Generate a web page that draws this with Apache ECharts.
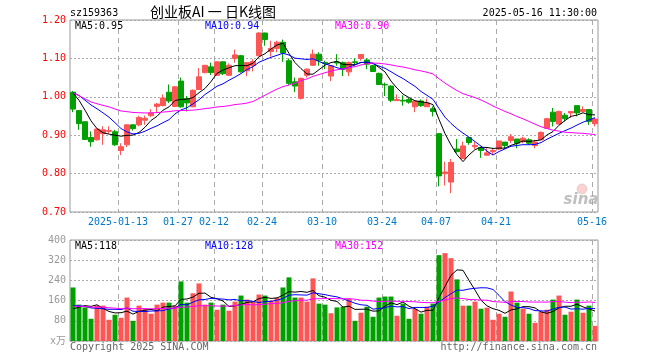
<!DOCTYPE html>
<html><head><meta charset="utf-8">
<script src="https://cdn.jsdelivr.net/npm/echarts@6/dist/echarts.min.js"></script>
<style>html,body{margin:0;padding:0;background:#fff}#c{width:660px;height:360px}</style>
</head><body><div id="c"></div>
<script>
const dates = ['2024-12-31',
'2025-01-02','2025-01-03','2025-01-06','2025-01-07','2025-01-08','2025-01-09','2025-01-10','2025-01-13','2025-01-14','2025-01-15','2025-01-16','2025-01-17','2025-01-20','2025-01-21','2025-01-22','2025-01-23','2025-01-24','2025-01-27',
'2025-02-05','2025-02-06','2025-02-07','2025-02-10','2025-02-11','2025-02-12','2025-02-13','2025-02-14','2025-02-17','2025-02-18','2025-02-19','2025-02-20','2025-02-21','2025-02-24','2025-02-25','2025-02-26','2025-02-27','2025-02-28',
'2025-03-03','2025-03-04','2025-03-05','2025-03-06','2025-03-07','2025-03-10','2025-03-11','2025-03-12','2025-03-13','2025-03-14','2025-03-17','2025-03-18','2025-03-19','2025-03-20','2025-03-21','2025-03-24','2025-03-25','2025-03-26','2025-03-27','2025-03-28','2025-03-31',
'2025-04-01','2025-04-02','2025-04-03','2025-04-07','2025-04-08','2025-04-09','2025-04-10','2025-04-11','2025-04-14','2025-04-15','2025-04-16','2025-04-17','2025-04-18','2025-04-21','2025-04-22','2025-04-23','2025-04-24','2025-04-25','2025-04-28','2025-04-29','2025-04-30',
'2025-05-06','2025-05-07','2025-05-08','2025-05-09','2025-05-12','2025-05-13','2025-05-14','2025-05-15','2025-05-16'];

// [open, close, low, high]
const candles = [
[1.012,0.968,0.960,1.015],[0.964,0.930,0.914,0.965],[0.935,0.889,0.888,0.936],[0.894,0.883,0.870,0.910],[0.888,0.916,0.886,0.918],
[0.904,0.914,0.875,0.923],[0.910,0.912,0.904,0.923],[0.909,0.875,0.872,0.914],[0.860,0.870,0.848,0.879],[0.875,0.927,0.869,0.928],
[0.927,0.917,0.912,0.928],[0.927,0.946,0.923,0.951],[0.939,0.944,0.927,0.951],[0.951,0.958,0.947,0.968],[0.975,0.981,0.958,0.984],
[0.977,0.997,0.975,1.006],[1.012,0.989,0.984,1.032],[0.975,1.026,0.974,1.028],[1.041,0.974,0.971,1.050],[0.995,0.984,0.962,1.002],
[0.974,1.017,0.973,1.019],[1.019,1.052,1.018,1.075],[1.063,1.082,1.061,1.083],[1.078,1.063,1.057,1.089],[1.056,1.091,1.054,1.092],
[1.091,1.060,1.057,1.092],[1.056,1.082,1.054,1.087],[1.100,1.109,1.089,1.123],[1.107,1.065,1.063,1.109],[1.068,1.089,1.054,1.090],
[1.081,1.092,1.066,1.098],[1.107,1.166,1.105,1.168],[1.166,1.149,1.133,1.167],[1.118,1.126,1.105,1.146],[1.126,1.142,1.116,1.146],
[1.142,1.114,1.091,1.149],[1.094,1.035,1.030,1.100],[1.039,1.028,1.012,1.050],[0.996,1.048,0.993,1.050],[1.056,1.072,1.050,1.074],
[1.082,1.111,1.081,1.123],[1.111,1.094,1.081,1.116],[1.089,1.087,1.072,1.094],[1.054,1.081,1.041,1.082],[1.091,1.088,1.081,1.111],
[1.089,1.072,1.054,1.092],[1.065,1.089,1.054,1.092],[1.091,1.089,1.081,1.100],[1.100,1.110,1.094,1.111],[1.096,1.085,1.072,1.100],
[1.081,1.066,1.066,1.083],[1.061,1.032,1.031,1.063],[1.032,1.031,1.002,1.037],[1.028,0.991,0.986,1.030],[0.990,0.993,0.989,1.006],
[0.991,0.989,0.977,1.004],[0.993,0.986,0.982,0.997],[0.974,0.989,0.960,0.989],[0.989,0.977,0.974,0.993],[0.974,0.984,0.974,0.995],
[0.969,0.962,0.949,0.975],[0.904,0.794,0.767,0.904],[0.800,0.804,0.769,0.831],[0.778,0.829,0.749,0.838],[0.864,0.857,0.855,0.890],
[0.839,0.872,0.839,0.883],[0.894,0.881,0.875,0.894],[0.870,0.873,0.864,0.882],[0.868,0.860,0.841,0.870],[0.848,0.854,0.846,0.866],
[0.857,0.860,0.848,0.866],[0.864,0.885,0.861,0.885],[0.882,0.873,0.864,0.882],[0.886,0.896,0.879,0.903],[0.890,0.879,0.866,0.890],
[0.883,0.892,0.879,0.896],[0.888,0.879,0.875,0.892],[0.873,0.882,0.866,0.888],[0.888,0.907,0.888,0.910],[0.918,0.943,0.917,0.945],
[0.960,0.936,0.923,0.971],[0.929,0.962,0.929,0.964],[0.952,0.943,0.936,0.958],[0.958,0.962,0.945,0.962],[0.977,0.958,0.949,0.977],
[0.962,0.967,0.960,0.975],[0.967,0.936,0.927,0.967],[0.930,0.942,0.923,0.945]];

// volume (万)
const volumes = [212,144,133,88,140,140,84,104,92,172,80,140,127,108,144,152,152,140,236,152,
189,228,144,152,124,144,120,156,180,164,156,184,180,160,172,212,252,172,172,156,
248,148,144,110,133,136,167,80,112,136,96,172,176,176,100,148,88,128,108,136,
148,340,348,328,244,140,140,156,128,132,84,108,96,196,152,128,108,72,116,124,
164,180,104,116,164,112,140,60];

// estimated sessions before the first shown day (only feed the moving averages)
const priorCloses = [1.000,1.005,1.012,1.008,1.015,1.020,1.025,1.018,1.022,1.017];
const priorVolumes = [107,150,160,145,155,155,110,100,105,108];

const tickDates = ['2025-01-13','2025-01-27','2025-02-12','2025-02-24','2025-03-10','2025-03-24','2025-04-07','2025-04-21','2025-05-16'];
const tickLabels = ['2025-01-13','01-27','02-12','02-24','03-10','03-24','04-07','04-21','05-16'];
const priceTicks = [0.70,0.80,0.90,1.00,1.10,1.20];
const volTicks = [0,80,160,240,320,400];
const volUnit = 'x万';

const RED = '#ff5555', GREEN = '#00a000';
const MONO = '"DejaVu Sans Mono", "Liberation Mono", monospace';

function movingAvg(prior, vals, n, digits) {
  const all = prior.concat(vals);
  const off = prior.length;
  return vals.map((_, i) => {
    const idx = i + off;
    const s = Math.max(0, idx - n + 1);
    let sum = 0;
    for (let k = s; k <= idx; k++) sum += all[k];
    return +(sum / (idx - s + 1)).toFixed(digits);
  });
}
const closes = candles.map(c => c[1]);
const ma5 = movingAvg(priorCloses, closes, 5, 4);
const ma10 = movingAvg(priorCloses, closes, 10, 4);
const ma30 = movingAvg(priorCloses, closes, 30, 4);
const vma5 = movingAvg(priorVolumes, volumes, 5, 2);
const vma10 = movingAvg(priorVolumes, volumes, 10, 2);
const vma30 = movingAvg(priorVolumes, volumes, 30, 2);
const f2 = v => (Math.floor(v * 100 + 1e-6) / 100).toFixed(2);
const f0 = v => String(Math.floor(v + 1e-6));

const tickIdx = tickDates.map(d => dates.indexOf(d));
const gridDates = dates.concat(['']);
const isTick = i => tickIdx.indexOf(i) >= 0;

const chart = echarts.init(document.getElementById('c'), null, {renderer: 'canvas'});
const last = closes.length - 1;
const lineS = (name, data, color, xi, yi) => ({
  name, type: 'line', data, xAxisIndex: xi, yAxisIndex: yi, symbol: 'none',
  lineStyle: {color, width: 1}, itemStyle: {color}, animation: false, z: 5
});
const txt = (x, y, text, fill, align, size, extra) => Object.assign({
  type: 'text', x, y, silent: true, z: 100,
  style: {text, fill, font: (size || 10) + 'px ' + MONO, textAlign: align || 'left', align: align || 'left',
          textVerticalAlign: 'middle', verticalAlign: 'middle'}
}, extra || {});

chart.setOption({
  animation: false,
  backgroundColor: '#fff',
  grid: [
    {left: 70, right: 62, top: 20, height: 192, show: true, borderColor: '#999', borderWidth: 1, backgroundColor: 'transparent'},
    {left: 70, right: 62, top: 240, height: 101, show: true, borderColor: '#999', borderWidth: 1, backgroundColor: 'transparent'}
  ],
  xAxis: [
    {gridIndex: 0, type: 'category', data: dates, boundaryGap: true,
     axisLine: {show: false}, axisTick: {show: false}, axisLabel: {show: false}, splitLine: {show: false}},
    {gridIndex: 0, type: 'category', data: gridDates, boundaryGap: false, position: 'bottom',
     axisLine: {show: false}, axisTick: {show: false},
     axisLabel: {show: true, interval: (i) => isTick(i), color: '#0078c8', fontFamily: MONO, fontSize: 10, margin: 5,
       formatter: (v, i) => { const k = tickDates.indexOf(v); return k >= 0 ? tickLabels[k] : ''; }},
     splitLine: {show: true, interval: (i) => isTick(i), lineStyle: {color: '#aaa', type: [5, 4], width: 1}}},
    {gridIndex: 1, type: 'category', data: dates, boundaryGap: true,
     axisLine: {show: false}, axisTick: {show: false}, axisLabel: {show: false}, splitLine: {show: false}},
    {gridIndex: 1, type: 'category', data: gridDates, boundaryGap: false,
     axisLine: {show: false}, axisTick: {show: false}, axisLabel: {show: false},
     splitLine: {show: true, interval: (i) => isTick(i), lineStyle: {color: '#aaa', type: [5, 4], width: 1}}}
  ],
  yAxis: [
    {gridIndex: 0, type: 'value', min: priceTicks[0], max: priceTicks[priceTicks.length - 1], interval: 0.1,
     axisLine: {show: false}, axisTick: {show: false},
     axisLabel: {color: '#ff0000', fontFamily: MONO, fontSize: 10, margin: 4, formatter: v => v.toFixed(2)},
     splitLine: {show: true, lineStyle: {color: '#aaa', type: [2, 2], width: 1}}},
    {gridIndex: 1, type: 'value', min: volTicks[0], max: volTicks[volTicks.length - 1], interval: 80,
     axisLine: {show: false}, axisTick: {show: false},
     axisLabel: {color: '#999', fontFamily: MONO + ', "Noto Sans CJK SC"', fontSize: 10, margin: 4,
       formatter: v => v === 0 ? volUnit : String(v)},
     splitLine: {show: true, lineStyle: {color: '#aaa', type: [2, 2], width: 1}}}
  ],
  series: [
    {name: 'K', type: 'candlestick', xAxisIndex: 0, yAxisIndex: 0, data: candles.map(c => [c[0], c[1], c[2], c[3]]),
     barWidth: 5, z: 3,
     itemStyle: {color: RED, color0: GREEN, borderColor: RED, borderColor0: GREEN, borderWidth: 1}},
    lineS('MA5', ma5, '#000000', 0, 0),
    lineS('MA10', ma10, '#0000ff', 0, 0),
    lineS('MA30', ma30, '#ff00ff', 0, 0),
    {name: 'VOL', type: 'bar', xAxisIndex: 2, yAxisIndex: 1, data: volumes, barWidth: 5, z: 3,
     itemStyle: {color: p => candles[p.dataIndex][1] >= candles[p.dataIndex][0] ? RED : GREEN}},
    lineS('VMA5', vma5, '#000000', 2, 1),
    lineS('VMA10', vma10, '#0000ff', 2, 1),
    lineS('VMA30', vma30, '#ff00ff', 2, 1)
  ],
  graphic: [
    txt(70, 13, 'sz159363', '#000', 'left', 10),
    {type: 'text', x: 150, y: 12, silent: true, z: 100,
     style: {text: '创业板AI 一 日K线图', fill: '#000', font: '14px "Noto Sans CJK SC", sans-serif',
             textAlign: 'left', align: 'left', textVerticalAlign: 'middle', verticalAlign: 'middle'}},
    txt(597, 13, '2025-05-16 11:30:00', '#000', 'right', 10),
    txt(75, 26, 'MA5:' + f2(ma5[last]), '#000', 'left', 10),
    txt(205, 26, 'MA10:' + f2(ma10[last]), '#0000ff', 'left', 10),
    txt(335, 26, 'MA30:' + f2(ma30[last]), '#ff00ff', 'left', 10),
    txt(75, 246, 'MA5:' + f0(vma5[last]), '#000', 'left', 10),
    txt(205, 246, 'MA10:' + f0(vma10[last]), '#0000ff', 'left', 10),
    txt(335, 246, 'MA30:' + f0(vma30[last]), '#ff00ff', 'left', 10),
    txt(70, 347, 'Copyright 2025 SINA.COM', '#666', 'left', 10),
    txt(597, 347, 'http://finance.sina.com.cn', '#666', 'right', 10),
    {type: 'circle', shape: {cx: 582, cy: 189, r: 5}, silent: true, z: 1,
     style: {fill: 'rgba(255,120,120,0.35)', stroke: 'rgba(200,200,200,0.6)'}},
    {type: 'text', x: 581, y: 200, silent: true, z: 1,
     style: {text: 'sina', fill: 'rgba(170,170,170,0.75)', font: 'italic bold 15px "DejaVu Sans", sans-serif',
             textAlign: 'center', align: 'center', textVerticalAlign: 'middle', verticalAlign: 'middle'}}
  ]
});
</script></body></html>
